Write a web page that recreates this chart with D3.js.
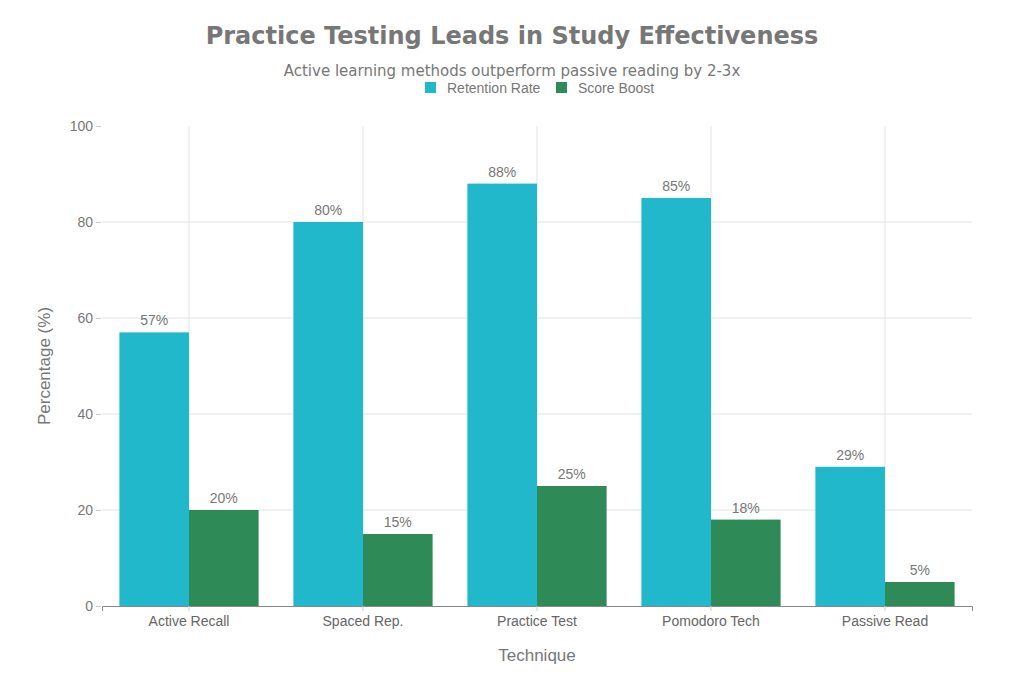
<!DOCTYPE html>
<html>
<head>
<meta charset="utf-8">
<script src="https://cdn.jsdelivr.net/npm/d3@7"></script>
<style>
  body { margin: 0; background: #fff; }
  text { font-family: "Liberation Sans", Arial, sans-serif; }
</style>
</head>
<body>
<svg id="chart" width="1024" height="683"></svg>
<script>
const techniques = ['Active Recall', 'Spaced Rep.', 'Practice Test', 'Pomodoro Tech', 'Passive Read'];
const retention = [57, 80, 88, 85, 29];
const scoreBoost = [20, 15, 25, 18, 5];
const seriesNames = ['Retention Rate', 'Score Boost'];
const seriesColors = ['#21b8cc', '#2e8b57'];
const yTicks = [0, 20, 40, 60, 80, 100];

let svg = d3.select('#chart'),
  margin = { top: 126, right: 52, bottom: 77, left: 102 },
  width = 1024 - margin.left - margin.right,
  height = 683 - margin.top - margin.bottom;

let rows = techniques.map((t, i) => ({ name: t, values: [retention[i], scoreBoost[i]] }));

let x = d3.scaleBand().domain(techniques).range([0, width]).paddingInner(0.2).paddingOuter(0.1);
let xs = d3.scaleBand().domain(seriesNames).range([0, x.bandwidth()]);
let y = d3.scaleLinear().domain([0, 100]).range([height, 0]);

let g = svg.append('g').attr('transform', `translate(${margin.left},${margin.top})`);

// grid lines
g.append('g').selectAll('line')
  .data(yTicks.filter(d => d > 0 && d < 100))
  .enter().append('line')
  .attr('x1', 0).attr('x2', width)
  .attr('y1', d => y(d)).attr('y2', d => y(d))
  .attr('stroke', '#e2e2e2').attr('stroke-width', 1);
g.append('g').selectAll('line')
  .data(techniques)
  .enter().append('line')
  .attr('x1', d => x(d) + x.bandwidth() / 2).attr('x2', d => x(d) + x.bandwidth() / 2)
  .attr('y1', 0).attr('y2', height)
  .attr('stroke', '#e2e2e2').attr('stroke-width', 1);

// bars
let groups = g.append('g').selectAll('g')
  .data(rows)
  .enter().append('g')
  .attr('transform', d => `translate(${x(d.name)},0)`);

groups.selectAll('rect')
  .data(d => d.values.map((v, i) => ({ key: seriesNames[i], value: v, i: i })))
  .enter().append('rect')
  .attr('x', d => xs(d.key))
  .attr('y', d => y(d.value))
  .attr('width', xs.bandwidth())
  .attr('height', d => height - y(d.value))
  .attr('fill', d => seriesColors[d.i]);

groups.selectAll('text')
  .data(d => d.values.map((v, i) => ({ key: seriesNames[i], value: v })))
  .enter().append('text')
  .attr('x', d => xs(d.key) + xs.bandwidth() / 2)
  .attr('y', d => y(d.value) - 7)
  .attr('text-anchor', 'middle')
  .attr('font-size', 14)
  .attr('fill', '#777')
  .text(d => d.value + '%');

// axes
let xAxis = g.append('g')
  .attr('transform', `translate(0,${height})`)
  .call(d3.axisBottom(x).tickSize(5).tickPadding(5));
xAxis.select('.domain').attr('stroke', '#888');
xAxis.selectAll('.tick line').attr('stroke', '#ccc');
xAxis.selectAll('text').attr('font-size', 14).attr('fill', '#666')
  .style('font-family', '"Liberation Sans", Arial, sans-serif');

let yAxis = g.append('g')
  .call(d3.axisLeft(y).tickValues(yTicks).tickSize(5).tickPadding(4));
yAxis.select('.domain').remove();
yAxis.selectAll('.tick line').attr('stroke', '#ccc').attr('transform', 'translate(-1,0)');
yAxis.selectAll('text').attr('font-size', 14).attr('fill', '#777')
  .style('font-family', '"Liberation Sans", Arial, sans-serif');

// axis titles
svg.append('text')
  .attr('x', margin.left + width / 2).attr('y', 661)
  .attr('text-anchor', 'middle').attr('font-size', 17).attr('fill', '#777')
  .text('Technique');
svg.append('text')
  .attr('transform', `translate(50,${margin.top + height / 2}) rotate(-90)`)
  .attr('text-anchor', 'middle').attr('font-size', 17).attr('fill', '#777')
  .text('Percentage (%)');

// titles
svg.append('text')
  .attr('x', 512).attr('y', 44)
  .attr('text-anchor', 'middle')
  .attr('font-size', 24).attr('font-weight', 'bold').attr('fill', '#777')
  .style('font-family', '"DejaVu Sans", sans-serif')
  .text('Practice Testing Leads in Study Effectiveness');
svg.append('text')
  .attr('x', 512).attr('y', 76)
  .attr('text-anchor', 'middle').attr('font-size', 15).attr('fill', '#777')
  .style('font-family', '"DejaVu Sans", sans-serif')
  .text('Active learning methods outperform passive reading by 2-3x');

// legend
let legend = svg.append('g').attr('transform', 'translate(425,82)');
let legendX = [0, 131];
seriesNames.forEach((name, i) => {
  let item = legend.append('g').attr('transform', `translate(${legendX[i]},0)`);
  item.append('rect').attr('width', 11).attr('height', 11).attr('fill', seriesColors[i]);
  item.append('text').attr('x', 22).attr('y', 11)
    .attr('font-size', 14).attr('fill', '#777').text(name);
});
</script>
</body>
</html>
